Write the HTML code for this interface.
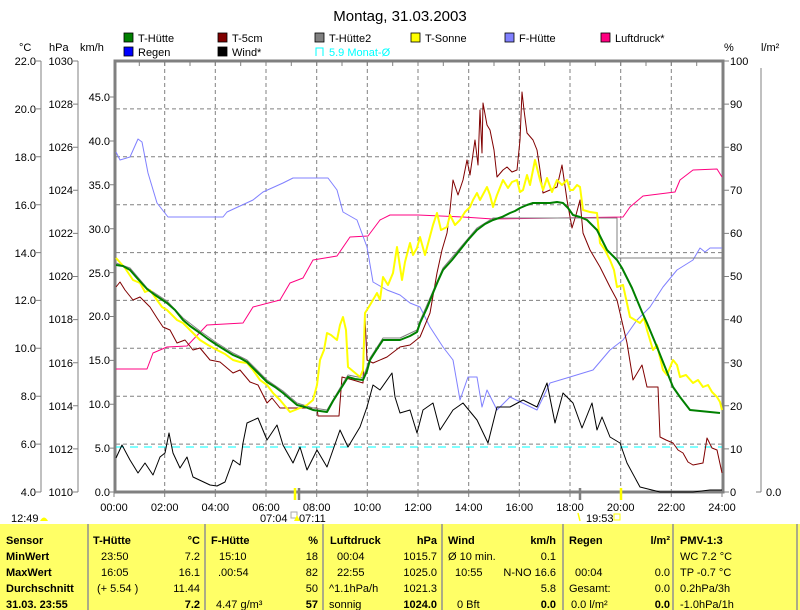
<!DOCTYPE html>
<html><head><meta charset="utf-8"><style>
html,body{margin:0;padding:0;background:#fff}
svg{display:block;font-family:"Liberation Sans",sans-serif}
</style></head><body>
<svg width="800" height="610" viewBox="0 0 800 610" xmlns="http://www.w3.org/2000/svg" font-size="11">
<rect width="800" height="610" fill="#fff"/>
<text x="400" y="21" font-size="15" text-anchor="middle" fill="#000">Montag, 31.03.2003</text>
<g font-size="11">
<rect x="124" y="33" width="9" height="9" fill="#008000" stroke="#000" stroke-width="0.8"/><text x="138" y="42">T-Hütte</text>
<rect x="218" y="33" width="9" height="9" fill="#800000" stroke="#000" stroke-width="0.8"/><text x="232" y="42">T-5cm</text>
<rect x="315" y="33" width="9" height="9" fill="#808080" stroke="#000" stroke-width="0.8"/><text x="329" y="42">T-Hütte2</text>
<rect x="411" y="33" width="9" height="9" fill="#ffff00" stroke="#000" stroke-width="0.8"/><text x="425" y="42">T-Sonne</text>
<rect x="505" y="33" width="9" height="9" fill="#8080ff" stroke="#000" stroke-width="0.8"/><text x="519" y="42">F-Hütte</text>
<rect x="601" y="33" width="9" height="9" fill="#ff0080" stroke="#000" stroke-width="0.8"/><text x="615" y="42">Luftdruck*</text>
<rect x="124" y="47" width="9" height="9" fill="#0000ff" stroke="#000" stroke-width="0.8"/><text x="138" y="56">Regen</text>
<rect x="218" y="47" width="9" height="9" fill="#000" stroke="#000" stroke-width="0.8"/><text x="232" y="56">Wind*</text>
<path d="M316 56 V48 H323 V56" fill="none" stroke="#00ffff"/><text x="329" y="56" fill="#00ffff">5.9 Monat-Ø</text>
</g>
<text x="19" y="51">°C</text><text x="49" y="51">hPa</text><text x="80" y="51">km/h</text>
<text x="724" y="51">%</text><text x="761" y="51">l/m²</text>
<g stroke="#808080" stroke-dasharray="4,3" stroke-width="1">
<path d="M116 108.9H722M116 156.8H722M116 204.7H722M116 252.6H722M116 300.4H722M116 348.3H722M116 396.2H722M116 444.1H722"/>
<path d="M164.7 62V491M215.3 62V491M266 62V491M316.7 62V491M367.3 62V491M418 62V491M468.7 62V491M519.3 62V491M570 62V491M620.7 62V491M671.3 62V491"/>
</g>
<g stroke="#808080" fill="none">
<path d="M41 61V492M78 61V492M761 68V492"/>
<rect x="115" y="61" width="608" height="431" stroke-width="3"/>
<path d="M36 61H41M36 108.9H41M36 156.8H41M36 204.7H41M36 252.6H41M36 300.4H41M36 348.3H41M36 396.2H41M36 444.1H41M36 492H41"/>
<path d="M73 61H78M73 104.1H78M73 147.2H78M73 190.3H78M73 233.4H78M73 276.5H78M73 319.6H78M73 362.7H78M73 405.8H78M73 448.9H78M73 492H78"/>
<path d="M110 97H114M110 141H114M110 184.8H114M110 228.7H114M110 272.6H114M110 316.5H114M110 360.4H114M110 404.2H114M110 448.1H114M110 492H114"/>
<path d="M724 61H729M724 104.1H729M724 147.2H729M724 190.3H729M724 233.4H729M724 276.5H729M724 319.6H729M724 362.7H729M724 405.8H729M724 448.9H729M724 492H729M756 492H761"/>
<path d="M139.3 62V66M164.7 62V66M190 62V66M215.3 62V66M240.7 62V66M266 62V66M291.3 62V66M316.7 62V66M342 62V66M367.3 62V66M392.7 62V66M418 62V66M443.3 62V66M468.7 62V66M494 62V66M519.3 62V66M544.7 62V66M570 62V66M595.3 62V66M620.7 62V66M646 62V66M671.3 62V66M696.7 62V66"/>
<path d="M114 492V497M164.7 492V497M215.3 492V497M266 492V497M316.7 492V497M367.3 492V497M418 492V497M468.7 492V497M519.3 492V497M570 492V497M620.7 492V497M671.3 492V497M722 492V497"/>
<path d="M299 488V500M580 488V500" stroke-width="2.5"/>
</g>
<path d="M295 488V500M621 488V500" stroke="#ffff00" stroke-width="2.5"/>
<g text-anchor="end" font-size="11">
<text x="36" y="65">22.0</text><text x="36" y="113">20.0</text><text x="36" y="161">18.0</text><text x="36" y="209">16.0</text><text x="36" y="257">14.0</text><text x="36" y="304">12.0</text><text x="36" y="352">10.0</text><text x="36" y="400">8.0</text><text x="36" y="448">6.0</text><text x="36" y="496">4.0</text>
<text x="73" y="65">1030</text><text x="73" y="108">1028</text><text x="73" y="151">1026</text><text x="73" y="194">1024</text><text x="73" y="237">1022</text><text x="73" y="280">1020</text><text x="73" y="323">1018</text><text x="73" y="367">1016</text><text x="73" y="410">1014</text><text x="73" y="453">1012</text><text x="73" y="496">1010</text>
<text x="110" y="101">45.0</text><text x="110" y="145">40.0</text><text x="110" y="189">35.0</text><text x="110" y="233">30.0</text><text x="110" y="277">25.0</text><text x="110" y="320">20.0</text><text x="110" y="364">15.0</text><text x="110" y="408">10.0</text><text x="110" y="452">5.0</text><text x="110" y="496">0.0</text>
</g>
<g font-size="11">
<text x="730" y="65">100</text><text x="730" y="108">90</text><text x="730" y="151">80</text><text x="730" y="194">70</text><text x="730" y="237">60</text><text x="730" y="280">50</text><text x="730" y="323">40</text><text x="730" y="367">30</text><text x="730" y="410">20</text><text x="730" y="453">10</text><text x="730" y="496">0</text>
<text x="766" y="496">0.0</text>
</g>
<g text-anchor="middle" font-size="11">
<text x="114" y="511">00:00</text><text x="164.7" y="511">02:00</text><text x="215.3" y="511">04:00</text><text x="266" y="511">06:00</text><text x="316.7" y="511">08:00</text><text x="367.3" y="511">10:00</text><text x="418" y="511">12:00</text><text x="468.7" y="511">14:00</text><text x="519.3" y="511">16:00</text><text x="570" y="511">18:00</text><text x="620.7" y="511">20:00</text><text x="671.3" y="511">22:00</text><text x="722" y="511">24:00</text>
</g>
<text x="11" y="522">12:49</text><path d="M40 521 Q44 514 48 521Z" fill="#ffff00"/>
<text x="260" y="522">07:04</text><text x="299" y="522">07:11</text><rect x="291" y="512" width="6" height="6" fill="none" stroke="#aaa"/><path d="M294 521 L297 515 L300 521Z" fill="#ffff00"/>
<text x="586" y="522">19:53</text><path d="M578 513 L580 521" stroke="#ffff00" stroke-width="1.5"/><rect x="614" y="514" width="6" height="6" fill="none" stroke="#ffff00"/>
<path d="M116 447H722" stroke="#00ffff" stroke-dasharray="8,6"/>
<g fill="none" stroke-linejoin="round">
<polyline stroke="#ff0080" stroke-width="1" points="116,369 147,369 153,353 167,347 187,346 207,325 243,323 253,307 280,300 290,283 303,278 313,260 337,256 350,237 368,236 380,220 390,215 418,215 463,217 493,219 623,217 630,207 643,196 675,192 680,180 693,170 717,169 722,177"/>
<polyline stroke="#8080ff" stroke-width="1" points="116,152 120,160 130,157 138,139 142,142 148,173 157,203 168,217 223,217 227,212 253,200 263,192 283,183 293,178 328,178 337,190 343,212 357,220 367,247 373,282 387,290 400,295 410,303 420,307 430,327 443,347 453,360 460,400 468,377 477,377 482,407 487,390 497,410 510,397 537,410 550,383 570,377 593,370 610,350 623,340 637,320 650,307 663,287 677,270 693,260 700,248 705,252 710,248 722,248"/>
<polyline stroke="#000" stroke-width="1" points="116,458 122,445 130,460 138,473 145,463 153,475 160,457 165,453 169,433 173,453 180,468 187,457 193,477 210,485 217,486 225,482 233,460 240,465 243,443 247,423 258,418 267,440 277,425 283,445 293,463 300,447 307,470 317,450 327,467 340,430 348,447 360,427 367,407 373,385 380,390 392,373 395,397 400,413 410,410 417,433 423,410 433,403 440,430 453,410 463,403 477,420 488,443 497,407 510,407 523,400 537,407 547,383 555,423 563,393 573,403 582,428 592,403 597,430 602,417 610,437 620,443 627,463 640,487 660,492 693,492 710,490 722,490"/>
<polyline stroke="#800000" stroke-width="1" points="116,287 120,282 125,290 133,300 140,297 150,307 157,318 163,327 170,330 177,343 185,340 193,350 200,348 210,360 220,362 233,373 240,370 250,382 258,385 267,403 272,398 280,408 317,408 318,416 339,416 342,377 353,380 363,383 365,317 367,360 373,363 387,357 400,347 410,345 420,337 430,313 437,273 442,250 447,233 450,210 453,180 458,195 463,180 467,160 470,175 475,140 478,165 480,110 482,153 483,103 487,125 490,130 494,150 497,177 503,170 507,167 512,172 517,170 520,140 522,92 524,110 527,133 533,140 537,150 540,170 543,193 550,190 557,187 562,165 567,200 572,228 576,215 580,200 583,233 590,250 600,267 604,275 610,287 617,300 627,343 633,380 642,365 647,387 658,387 660,437 666,440 673,443 678,450 683,453 688,462 693,465 703,463 707,438 712,448 717,450 722,473"/>
<polyline stroke="#808080" stroke-width="1" points="116,263 130,268 147,288 167,301 183,318 200,331 217,343 233,353 247,360 267,380 283,391 297,403 313,408 327,410 340,388 348,375 363,378 370,358 383,338 400,338 417,330 420,321 433,291 443,268 460,248 477,228 493,218 617,218 617,258 722,258"/>
<polyline stroke="#ffff00" stroke-width="2" points="116,258 125,268 133,280 140,283 145,292 150,290 157,300 162,307 167,310 172,315 177,320 183,323 190,330 200,340 208,345 217,350 225,354 233,360 240,362 247,363 253,370 260,380 267,385 273,393 280,400 290,412 300,408 307,405 313,400 317,385 320,360 324,350 327,333 331,335 337,340 340,325 343,317 346,330 348,367 354,372 360,377 363,370 365,313 370,305 377,293 380,300 383,277 388,285 393,273 397,247 402,280 405,262 410,243 413,255 417,248 420,237 425,255 429,240 433,225 437,213 441,230 447,227 450,215 455,225 460,220 465,212 470,207 473,200 477,193 480,200 487,187 490,195 493,207 497,195 503,180 508,188 512,182 517,180 520,192 523,190 527,175 530,185 535,160 540,180 543,190 547,178 552,192 557,180 562,185 567,180 570,190 573,190 577,185 580,187 583,210 590,212 597,213 600,243 605,250 610,260 614,270 617,287 623,285 630,317 635,320 640,323 644,318 647,330 653,350 657,345 663,370 667,375 673,360 677,365 680,377 686,375 693,383 698,380 703,387 708,385 712,392 717,397 720,402 722,410"/>
<polyline stroke="#008000" stroke-width="2" points="116,265 123,266 130,270 137,278 147,289 155,295 167,303 175,310 183,320 190,326 200,333 208,339 217,345 225,350 233,355 240,358 247,362 257,372 267,382 275,387 283,393 290,399 297,405 305,407 313,410 320,411 327,412 333,401 340,390 345,382 348,377 355,379 363,380 367,371 370,360 377,349 383,340 392,340 400,340 410,336 417,332 420,323 427,308 433,293 438,281 443,270 452,260 460,250 468,240 477,230 485,224 493,220 502,217 510,213 515,211 520,208 527,205 533,203 542,203 550,203 557,202 563,203 568,208 573,215 580,217 587,220 592,225 597,230 602,240 607,250 612,255 617,260 622,268 627,278 632,288 637,300 642,312 647,323 652,335 657,347 665,367 673,387 680,397 690,410 700,411 710,412 720,413"/>
</g>
<rect x="0" y="524" width="800" height="86" fill="#ffff66"/>
<g stroke="#909090" stroke-width="1.5"><path d="M88 524V610M205 524V610M323 524V610M442 524V610M563 524V610M673 524V610M797 524V610"/></g>
<g font-size="11" font-weight="bold">
<text x="6" y="544">Sensor</text><text x="6" y="560">MinWert</text><text x="6" y="576">MaxWert</text><text x="6" y="592">Durchschnitt</text><text x="6" y="608">31.03. 23:55</text>
<text x="93" y="544">T-Hütte</text><text x="211" y="544">F-Hütte</text><text x="330" y="544">Luftdruck</text><text x="448" y="544">Wind</text><text x="569" y="544">Regen</text><text x="680" y="544">PMV-1:3</text>
<g text-anchor="end"><text x="200" y="544">°C</text><text x="318" y="544">%</text><text x="437" y="544">hPa</text><text x="556" y="544">km/h</text><text x="670" y="544">l/m²</text>
<text x="200" y="608">7.2</text><text x="318" y="608">57</text><text x="437" y="608">1024.0</text><text x="556" y="608">0.0</text><text x="670" y="608">0.0</text></g>
</g>
<g font-size="11">
<text x="101" y="560">23:50</text><text x="101" y="576">16:05</text><text x="97" y="592">(+ 5.54 )</text>
<text x="219" y="560">15:10</text><text x="218" y="576">.00:54</text><text x="216" y="608">4.47 g/m³</text>
<text x="337" y="560">00:04</text><text x="337" y="576">22:55</text><text x="329" y="592">^1.1hPa/h</text><text x="329" y="608">sonnig</text>
<text x="448" y="560">Ø 10 min.</text><text x="455" y="576">10:55</text><text x="457" y="608">0 Bft</text>
<text x="575" y="576">00:04</text><text x="569" y="592">Gesamt:</text><text x="571" y="608">0.0 l/m²</text>
<text x="680" y="560">WC 7.2 °C</text><text x="680" y="576">TP -0.7 °C</text><text x="680" y="592">0.2hPa/3h</text><text x="680" y="608">-1.0hPa/1h</text>
<g text-anchor="end">
<text x="200" y="560">7.2</text><text x="200" y="576">16.1</text><text x="200" y="592">11.44</text>
<text x="318" y="560">18</text><text x="318" y="576">82</text><text x="318" y="592">50</text>
<text x="437" y="560">1015.7</text><text x="437" y="576">1025.0</text><text x="437" y="592">1021.3</text>
<text x="556" y="560">0.1</text><text x="556" y="576">N-NO 16.6</text><text x="556" y="592">5.8</text>
<text x="670" y="576">0.0</text><text x="670" y="592">0.0</text>
</g>
</g>
</svg>
</body></html>
